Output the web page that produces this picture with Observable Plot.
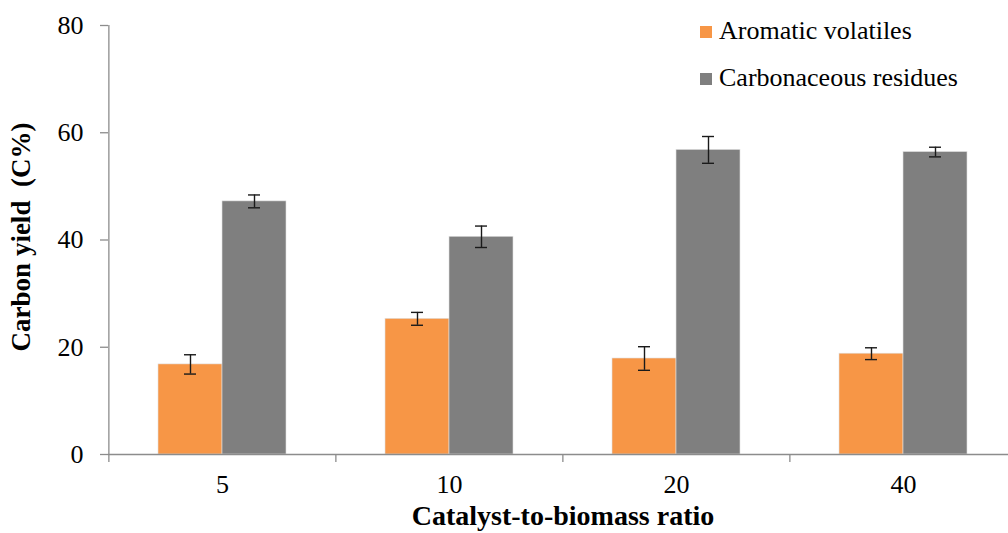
<!DOCTYPE html>
<html><head><meta charset="utf-8">
<script src="https://cdn.jsdelivr.net/npm/d3@7"></script>
<script src="https://cdn.jsdelivr.net/npm/@observablehq/plot@0.6"></script>
<style>
body{margin:0;background:#fff;}
#wrap{position:relative;width:1008px;height:533px;overflow:hidden;font-family:"Liberation Serif","Times New Roman",serif;}
.lg{position:absolute;left:700px;font-size:26px;line-height:30px;color:#000;white-space:nowrap;font-family:"Liberation Serif","Times New Roman",serif;}
.lg span.sw{display:inline-block;width:12px;height:12px;margin-right:7px;vertical-align:1px;}
</style>
</head><body><div id="wrap"></div>
<script>
const ratios = ["5", "10", "20", "40"];
const series = ["Aromatic volatiles", "Carbonaceous residues"];
const aromatic = [16.8, 25.3, 17.9, 18.8];
const aromaticErr = [1.8, 1.2, 2.2, 1.1];
const residues = [47.2, 40.6, 56.8, 56.4];
const residuesErr = [1.2, 2.0, 2.5, 0.9];
const colors = ["#F79646", "#7F7F7F"];
const yTicks = [0, 20, 40, 60, 80];

const rows = [];
ratios.forEach((r, i) => {
  rows.push({ratio: r, series: series[0], value: aromatic[i], err: aromaticErr[i]});
  rows.push({ratio: r, series: series[1], value: residues[i], err: residuesErr[i]});
});
const A = rows.filter(d => d.series === series[0]);
const B = rows.filter(d => d.series === series[1]);

const W = 1008, H = 533;
const mL = 108, mR = -9, mT = 25, mB = 79;
const pInner = 0.4367;
const step = (W - mR - mL) / ratios.length;
const bw = step * (1 - pInner);
const half = bw / 2, cap = 6;
const axisColor = "#8c8c8c";
const serif = '"Liberation Serif","Times New Roman",serif';

const plot = Plot.plot({
  width: W, height: H,
  marginLeft: mL, marginRight: mR, marginTop: mT, marginBottom: mB,
  style: {fontFamily: serif, fontSize: "26px", color: "#000", background: "transparent", overflow: "visible"},
  x: {domain: ratios, paddingInner: pInner, paddingOuter: pInner / 2, label: null},
  y: {domain: [0, 80], label: null},
  color: {domain: series, range: colors},
  marks: [
    Plot.barY(A, {x: "ratio", y: "value", fill: "series", insetRight: half, stroke: "#e0e0e0", strokeWidth: 0.6}),
    Plot.barY(B, {x: "ratio", y: "value", fill: "series", insetLeft: half, stroke: "#e0e0e0", strokeWidth: 0.6}),
    Plot.ruleY([0], {stroke: axisColor, strokeWidth: 1.3}),
    Plot.ruleX([0], {x: () => ratios[0], y1: 0, y2: 80, dx: -step / 2, stroke: axisColor, strokeWidth: 1.3}),
    Plot.axisY({ticks: yTicks, tickSize: 8, tickPadding: 17, stroke: axisColor, strokeWidth: 1.3, fontSize: 26, label: null}),
    Plot.axisX({tickSize: 0, tickPadding: 20, fontSize: 26, label: null}),
    Plot.axisX({tickSize: 8, text: null, dx: -step / 2, stroke: axisColor, strokeWidth: 1.3, label: null}),
    Plot.ruleX(A, {x: "ratio", y1: d => d.value - d.err, y2: d => d.value + d.err, dx: -half / 2, stroke: "#1a1a1a", strokeWidth: 1.4}),
    Plot.ruleX(B, {x: "ratio", y1: d => d.value - d.err, y2: d => d.value + d.err, dx: half / 2, stroke: "#1a1a1a", strokeWidth: 1.4}),
    Plot.tickY(A, {x: "ratio", y: d => d.value - d.err, insetLeft: half / 2 - cap, insetRight: bw - half / 2 - cap, stroke: "#1a1a1a", strokeWidth: 1.4}),
    Plot.tickY(A, {x: "ratio", y: d => d.value + d.err, insetLeft: half / 2 - cap, insetRight: bw - half / 2 - cap, stroke: "#1a1a1a", strokeWidth: 1.4}),
    Plot.tickY(B, {x: "ratio", y: d => d.value - d.err, insetLeft: bw - half / 2 - cap, insetRight: half / 2 - cap, stroke: "#1a1a1a", strokeWidth: 1.4}),
    Plot.tickY(B, {x: "ratio", y: d => d.value + d.err, insetLeft: bw - half / 2 - cap, insetRight: half / 2 - cap, stroke: "#1a1a1a", strokeWidth: 1.4}),
    Plot.text(["Catalyst-to-biomass ratio"], {frameAnchor: "bottom", dy: 70, fontSize: 28, fontWeight: "bold", lineAnchor: "bottom", text: d => d}),
    Plot.text(["Carbon yield  (C%)"], {frameAnchor: "left", dx: -87, dy: -3, rotate: -90, textAnchor: "middle", fontSize: 27, fontWeight: "bold", lineAnchor: "middle", text: d => d})
  ]
});

const wrap = document.getElementById("wrap");
wrap.appendChild(plot);
series.forEach((s, i) => {
  const d = document.createElement("div");
  d.className = "lg";
  d.style.top = (i === 0 ? 16 : 63) + "px";
  d.innerHTML = `<span class="sw" style="background:${colors[i]}"></span>`;
  d.appendChild(document.createTextNode(s));
  wrap.appendChild(d);
});
</script>
</body></html>
